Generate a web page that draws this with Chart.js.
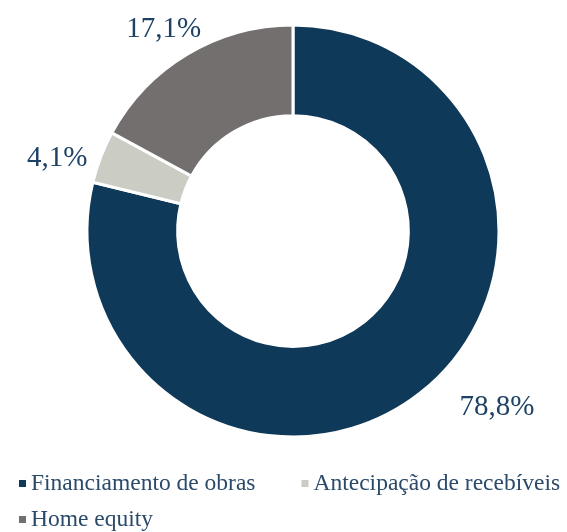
<!DOCTYPE html>
<html>
<head>
<meta charset="utf-8">
<script src="https://cdn.jsdelivr.net/npm/chart.js@4"></script>
<style>
  html, body { margin: 0; padding: 0; background: #fff; }
  #wrap { width: 567px; height: 532px; position: relative; }
</style>
</head>
<body>
<div id="wrap"><canvas id="chart"></canvas></div>
<script>
const categories = ['Financiamento de obras', 'Antecipação de recebíveis', 'Home equity'];
const values = [78.8, 4.1, 17.1];
const valueLabels = ['78,8%', '4,1%', '17,1%'];
const colors = ['#0f3959', '#cbcdc5', '#736f6e'];

// nudges for the outside labels (x, y in px)
const labelShift = [[55, -13], [-11, 14], [-6, 5]];

const outsideLabels = {
    id: 'outsideLabels',
    afterDatasetsDraw(chart) {
        const ctx = chart.ctx;
        const arcs = chart.getDatasetMeta(0).data;
        ctx.save();
        ctx.font = '29px "Liberation Serif"';
        ctx.fillStyle = '#1d4266';
        ctx.textAlign = 'center';
        ctx.textBaseline = 'middle';
        arcs.forEach((arc, i) => {
            const p = arc.getProps(['x', 'y', 'startAngle', 'endAngle'], true);
            const mid = (p.startAngle + p.endAngle) / 2;
            const r = 206 + 35;
            const x = p.x + Math.cos(mid) * r + labelShift[i][0];
            const y = p.y + Math.sin(mid) * r + labelShift[i][1];
            ctx.fillText(valueLabels[i], x, y);
        });
        ctx.restore();
    }
};

// legend drawn by hand so the spacing between items can follow the original
const bottomLegend = {
    id: 'bottomLegend',
    afterDraw(chart) {
        const ctx = chart.ctx;
        const arcs = chart.getDatasetMeta(0).data;
        const left = 19, rowH = 36, gap = 46, box = 7;
        let x = left, y = 483.5;
        ctx.save();
        ctx.font = '23.5px "Liberation Serif"';
        ctx.textAlign = 'left';
        ctx.textBaseline = 'alphabetic';
        chart.data.labels.forEach((label, i) => {
            const w = box + 5 + ctx.measureText(label).width;
            if (x > left && x + w > chart.width) {
                x = left;
                y += rowH;
            }
            ctx.fillStyle = arcs[i].options.backgroundColor;
            ctx.fillRect(x, y - box / 2, box, box);
            ctx.fillStyle = '#2b4a6a';
            ctx.fillText(label, x + box + 5, y + 6);
            x += w + gap;
        });
        ctx.restore();
    }
};

new Chart(document.getElementById('chart'), {
    type: 'doughnut',
    data: {
        labels: categories,
        datasets: [{
            data: values,
            backgroundColor: colors,
            borderColor: '#ffffff',
            borderWidth: 3
        }]
    },
    options: {
        responsive: true,
        maintainAspectRatio: false,
        animation: false,
        cutout: '56%',
        radius: 206,
        layout: { padding: { top: 25, left: 19, right: 0, bottom: 95 } },
        plugins: {
            tooltip: { enabled: false },
            legend: { display: false }
        }
    },
    plugins: [outsideLabels, bottomLegend]
});
</script>
</body>
</html>
